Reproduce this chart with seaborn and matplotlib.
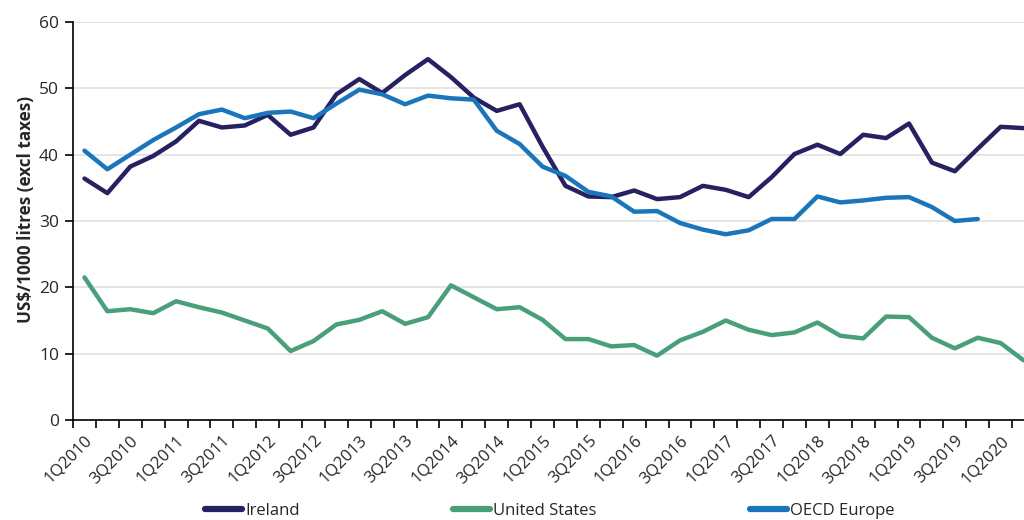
import pandas as pd
import numpy as np
import seaborn as sns
from matplotlib import pyplot as plt
from matplotlib.lines import Line2D

# quarters 1Q2010 .. 2Q2020
quarters = ["%dQ%d" % (q, y) for y in range(2010, 2021) for q in range(1, 5)][:42]

ireland = [36.4, 34.2, 38.2, 39.8, 42.0, 45.1, 44.1, 44.4, 46.0, 43.0,
           44.1, 49.1, 51.4, 49.3, 52.0, 54.4, 51.7, 48.6, 46.6, 47.6,
           41.2, 35.3, 33.7, 33.6, 34.6, 33.3, 33.6, 35.3, 34.7, 33.6,
           36.6, 40.1, 41.5, 40.1, 43.0, 42.5, 44.7, 38.8, 37.5, 40.9,
           44.2, 44.0]
us = [21.5, 16.4, 16.7, 16.1, 17.9, 17.0, 16.2, 15.0, 13.8, 10.4,
      11.9, 14.4, 15.1, 16.4, 14.5, 15.5, 20.3, 18.5, 16.7, 17.0,
      15.1, 12.2, 12.2, 11.1, 11.3, 9.7, 12.0, 13.3, 15.0, 13.6,
      12.8, 13.2, 14.7, 12.7, 12.3, 15.6, 15.5, 12.4, 10.8, 12.4,
      11.6, 9.0]
oecd = [40.6, 37.8, 40.0, 42.2, 44.1, 46.1, 46.8, 45.5, 46.3, 46.5,
        45.5, 47.7, 49.8, 49.1, 47.6, 48.9, 48.5, 48.3, 43.6, 41.6,
        38.2, 36.8, 34.4, 33.7, 31.4, 31.5, 29.7, 28.7, 28.0, 28.6,
        30.3, 30.3, 33.7, 32.8, 33.1, 33.5, 33.6, 32.1, 30.0, 30.3]

series = ["Ireland", "United States", "OECD Europe"]
colors = ["#262262", "#4a9f7b", "#1b75bb"]

rows = []
for name, vals in zip(series, [ireland, us, oecd]):
    for i, v in enumerate(vals):
        rows.append({"idx": i, "quarter": quarters[i], "value": v, "series": name})
df = pd.DataFrame(rows)

sns.set_style("white")
plt.rcParams['font.family'] = ['Open Sans', 'DejaVu Sans']

fig = plt.figure(figsize=(10.24, 5.2), dpi=100)
ax = fig.add_axes([73 / 1024, 100 / 520, 962 / 1024, 398 / 520])

sns.lineplot(data=df, x="idx", y="value", hue="series", hue_order=series,
             palette=colors, linewidth=3.2, legend=False, ax=ax)

ax.set_xlim(-0.5, 41.5)
ax.set_ylim(0, 60)
ax.set_yticks(range(0, 61, 10))
ax.yaxis.grid(True, color="#e0e0e0", linewidth=1.2)
ax.set_axisbelow(True)

# ticks on category boundaries, labels on every other category
ax.set_xticks(np.arange(-0.5, 42, 1))
ax.set_xticklabels([])
ax.set_xticks(range(0, 42, 2), minor=True)
ax.set_xticklabels(quarters[0:42:2], minor=True, rotation=45, ha="right",
                   rotation_mode="anchor", fontsize=12)
ax.tick_params(axis="x", which="minor", length=0, pad=9)
ax.tick_params(axis="x", which="major", length=6, width=1.2, color="black", direction="out")
ax.tick_params(axis="y", length=6, width=1.2, color="black", direction="out", labelsize=12.5, pad=4)
ax.tick_params(bottom=True, left=True)

for side in ["top", "right"]:
    ax.spines[side].set_visible(False)
for side in ["left", "bottom"]:
    ax.spines[side].set_color("black")
    ax.spines[side].set_linewidth(1.2)

ax.set_xlabel("")
ax.set_ylabel("US$/1000 litres (excl taxes)", fontsize=12.3, fontweight="bold")
ax.yaxis.set_label_coords(-0.04, 0.528)

handles = [Line2D([0], [0], color=c, linewidth=4.5) for c in colors]
fig.legend(handles, series, loc="center", bbox_to_anchor=(550 / 1024, 1 - 511 / 520),
           ncol=3, frameon=False, fontsize=12, handlelength=2.2, handletextpad=0.2,
           columnspacing=9.2)

plt.savefig("out.png", dpi=100)
